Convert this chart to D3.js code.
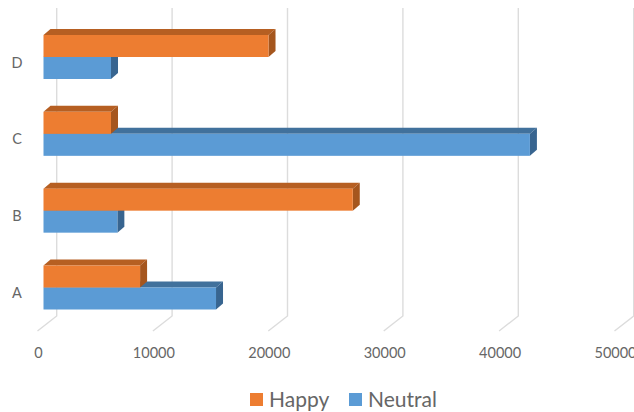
<!DOCTYPE html>
<html>
<head>
<meta charset="utf-8">
<style>
  html, body { margin: 0; padding: 0; background: #fff; overflow: hidden; }
  svg { display: block; }
  text { font-family: Lato, "Open Sans", sans-serif; fill: #666; }
</style>
<script src="https://cdn.jsdelivr.net/npm/d3@7"></script>
</head>
<body>
<script>
const categories = ["D", "C", "B", "A"];
const seriesNames = ["Happy", "Neutral"];
const happyValues = [19500, 5850, 26800, 8370];
const neutralValues = [5850, 42150, 6400, 14950];
const tickValues = [0, 10000, 20000, 30000, 40000, 50000];
const frontColors = ["#ed7d31", "#5b9bd5"];
const topColors = ["#b65f22", "#41719c"];
const sideColors = ["#a5561e", "#386590"];

const width = 634, height = 412;
const svg = d3.select("body").append("svg").attr("width", width).attr("height", height);

const x = d3.scaleLinear().domain([0, 50000]).range([43.5, 620.5]);
const yCat = d3.scalePoint().domain(categories).range([57, 287.5]);
const ySeries = d3.scaleBand().domain(seriesNames).range([-22, 22]);

// Depth of the extruded bars, and of the wall and floor behind them
const depthX = 7, depthY = 6;
const wallX = 13.2, floorX = -6;
const wallTop = 8, wallBottom = 316, floorBottom = 331;

// Gridlines on the back wall, bending forward across the floor
svg.append("g").selectAll("path").data(tickValues).join("path")
  .attr("fill", "none")
  .attr("stroke", "#dcdcdc")
  .attr("stroke-width", 1.4)
  .attr("d", v => d3.line()([
    [x(v) + wallX, wallTop],
    [x(v) + wallX, wallBottom],
    [x(v) + floorX, floorBottom]
  ]));

// Value labels under the floor
svg.append("g").selectAll("text").data(tickValues).join("text")
  .attr("x", v => x(v) - 5)
  .attr("y", 357.5)
  .attr("text-anchor", "middle")
  .attr("font-size", 14.5)
  .text(d => d);

// Category labels to the left of the bars
svg.append("g").selectAll("text").data(categories).join("text")
  .attr("x", 17)
  .attr("y", c => yCat(c) + 10.5)
  .attr("text-anchor", "middle")
  .attr("font-size", 14.5)
  .text(c => c);

const rows = [];
categories.forEach((c, i) => {
  rows.push({ c, s: "Neutral", v: neutralValues[i], k: 1 });
  rows.push({ c, s: "Happy", v: happyValues[i], k: 0 });
});

// One extruded bar per value: top face, end face, then front face
const bars = svg.append("g").selectAll("g").data(rows).join("g");
const x0 = x(0);
const barH = ySeries.bandwidth();
const poly = pts => d3.line()(pts) + "Z";

bars.append("path")
  .attr("fill", d => topColors[d.k])
  .attr("d", d => {
    const t = yCat(d.c) + ySeries(d.s), r = x(d.v);
    return poly([[x0, t], [x0 + depthX, t - depthY], [r + depthX, t - depthY], [r, t]]);
  });

bars.append("path")
  .attr("fill", d => sideColors[d.k])
  .attr("d", d => {
    const t = yCat(d.c) + ySeries(d.s), r = x(d.v);
    return poly([[r, t], [r + depthX, t - depthY], [r + depthX, t + barH - depthY], [r, t + barH]]);
  });

bars.append("rect")
  .attr("x", x0)
  .attr("y", d => yCat(d.c) + ySeries(d.s))
  .attr("width", d => x(d.v) - x0)
  .attr("height", barH)
  .attr("fill", d => frontColors[d.k]);

// Legend
const legendX = [250, 349];
const legend = svg.append("g").selectAll("g").data(seriesNames).join("g")
  .attr("transform", (d, i) => `translate(${legendX[i]},393)`);
legend.append("rect")
  .attr("width", 13).attr("height", 13)
  .attr("fill", (d, i) => frontColors[i]);
legend.append("text")
  .attr("x", 19).attr("y", 13.5)
  .attr("font-size", 21)
  .text(d => d);
</script>
</body>
</html>
